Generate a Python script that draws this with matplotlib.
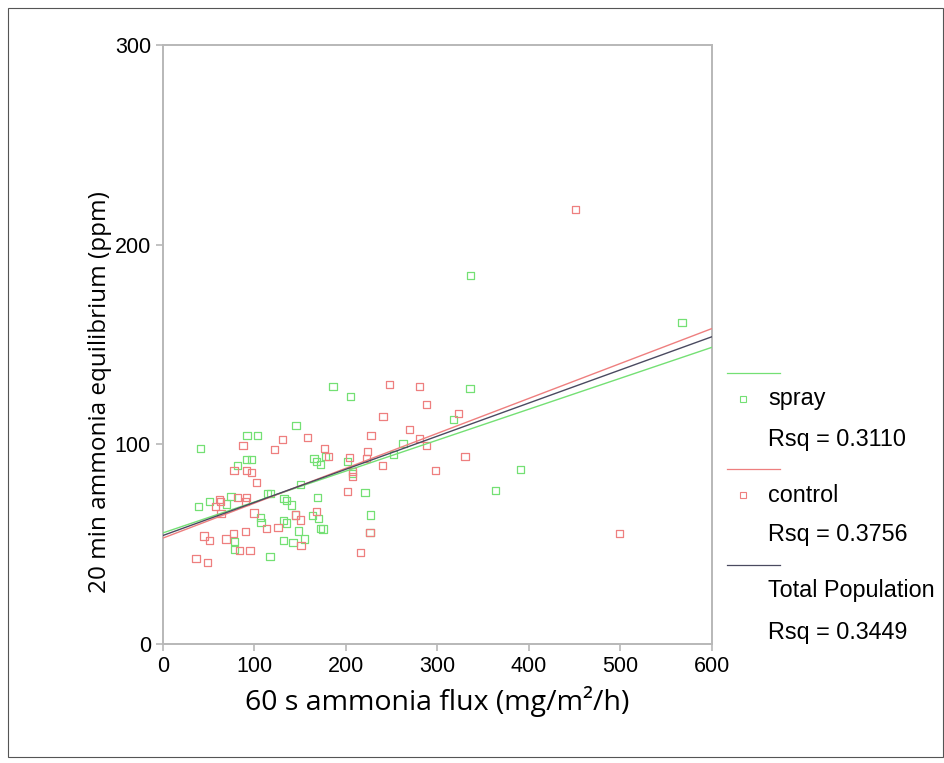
import numpy as np
import matplotlib
matplotlib.use('Agg')
import matplotlib.pyplot as plt
from matplotlib.lines import Line2D
from matplotlib.patches import Rectangle

# spray group (green)
spray_x = [186.0, 205.4, 145.6, 92.1, 103.8, 41.5, 91.3, 96.8, 81.9, 165.3,
           168.2, 172.6, 177.6, 201.6, 150.3, 114.3, 117.5, 74.6, 50.9, 69.5,
           38.9, 132.5, 135.0, 140.5, 168.9, 163.4, 170.4, 107.0, 107.4, 131.7,
           135.0, 172.6, 175.1, 148.3, 78.2, 78.6, 132.2, 142.3, 154.7, 117.2,
           145.3, 227.2, 226.4, 221.0, 262.5, 251.9, 317.4, 335.7, 336.4, 567.2,
           391.0, 363.7, 207.1]
spray_y = [129.1, 124.1, 109.5, 104.5, 104.5, 98.0, 92.2, 92.2, 89.3, 92.7,
           91.3, 90.1, 94.0, 91.4, 80.1, 75.5, 75.5, 73.8, 71.5, 70.1,
           68.8, 73.0, 71.8, 69.6, 73.5, 64.3, 63.0, 63.5, 60.8, 61.8,
           60.6, 57.9, 57.6, 56.6, 51.2, 47.1, 51.7, 50.8, 52.6, 43.6,
           64.6, 64.6, 55.7, 76.0, 100.2, 94.8, 112.5, 128.1, 184.5, 160.9,
           87.5, 77.0, 85.6]

# control group (red)
control_x = [131.1, 157.9, 87.7, 121.9, 176.5, 181.6, 203.8, 223.9, 222.8, 77.9,
             91.8, 97.2, 102.7, 207.1, 207.3, 201.6, 61.8, 63.4, 57.5, 81.5,
             91.3, 90.2, 63.7, 99.7, 145.1, 150.5, 167.5, 113.6, 125.9, 45.1,
             51.3, 69.1, 77.1, 90.2, 83.7, 95.4, 151.1, 36.4, 49.3, 216.1,
             226.4, 247.7, 280.3, 288.4, 322.8, 240.6, 269.4, 227.5, 280.3, 288.4,
             240.1, 330.2, 298.0, 450.7, 499.2]
control_y = [102.5, 103.5, 99.5, 97.2, 98.0, 94.0, 93.5, 96.2, 92.7, 86.9,
             86.8, 85.9, 81.0, 86.6, 84.0, 76.5, 72.5, 71.3, 68.8, 73.6,
             73.6, 71.3, 65.3, 65.6, 64.6, 62.1, 66.2, 57.9, 58.5, 54.1,
             51.7, 52.6, 55.4, 56.2, 46.6, 46.6, 49.2, 42.8, 40.7, 45.7,
             55.7, 130.1, 129.1, 120.0, 115.6, 114.0, 107.5, 104.5, 103.0, 99.3,
             89.5, 94.0, 87.1, 217.4, 55.4]

# fit lines: (intercept, slope)
fits = {'spray': (55.6, 0.155), 'control': (53.0, 0.175), 'total': (54.3, 0.166)}

green = '#74e074'
red = '#ee7f7f'
dark = '#4a4a60'

legend_names = ['spray', 'control', 'Total Population']
legend_rsq = ['Rsq = 0.3110', 'Rsq = 0.3756', 'Rsq = 0.3449']

fig = plt.figure(figsize=(9.45, 7.63), dpi=100)
ax = fig.add_axes([162.7/945, 1 - 644/763, (712 - 162.7)/945, (644 - 45)/763])

ax.scatter(spray_x, spray_y, marker='s', s=26, facecolors='none',
           edgecolors=green, linewidths=0.9, zorder=3)
ax.scatter(control_x, control_y, marker='s', s=26, facecolors='none',
           edgecolors=red, linewidths=0.9, zorder=3)

xx = np.array([0, 600])
for key, col in [('spray', green), ('control', red), ('total', dark)]:
    b, m = fits[key]
    ax.plot(xx, b + m * xx, color=col, lw=1.0, zorder=4)

ax.set_xlim(0, 600)
ax.set_ylim(0, 300)
ax.set_xticks(range(0, 601, 100))
ax.set_yticks([0, 100, 200, 300])
for s in ax.spines.values():
    s.set_color('#b8b8b8')
    s.set_linewidth(1.4)
ax.tick_params(colors='#b8b8b8', labelcolor='black', length=5, width=1.2,
               labelsize=15.5)
for lab in ax.get_xticklabels() + ax.get_yticklabels():
    lab.set_fontfamily('Liberation Sans')

ax.set_xlabel('60 s ammonia flux (mg/m²/h)', fontsize=20.5, family='Open Sans')
ax.xaxis.set_label_coords(0.5, -0.07)
ax.set_ylabel('20 min ammonia equilibrium (ppm)', fontsize=17.5, family='Open Sans')
ax.yaxis.set_label_coords(-0.093, 0.42)

# legend on the right
def fy(py):
    return 1 - py / 763

cols = [green, red, dark]
line_y = [373, 469, 565]
name_y = [399, 495, 591]
rsq_y = [440, 535, 632]
for i in range(3):
    fig.add_artist(Line2D([727/945, 780/945], [fy(line_y[i])] * 2,
                          color=cols[i], lw=0.9))
    if i < 2:
        fig.add_artist(Line2D([743/945], [fy(name_y[i])], marker='s',
                              markersize=4, markerfacecolor='none',
                              markeredgecolor=cols[i], markeredgewidth=0.8))
    fig.text(768/945, fy(name_y[i]), legend_names[i], fontsize=16.8,
             family='Liberation Sans', va='center')
    fig.text(768/945, fy(rsq_y[i]), legend_rsq[i], fontsize=16.8,
             family='Liberation Sans', va='center')

fig.add_artist(Rectangle((8/945, 1 - 757/763), 935/945, 749/763,
                         fill=False, edgecolor='#555555', lw=0.8))

fig.savefig('out.png', dpi=100)
